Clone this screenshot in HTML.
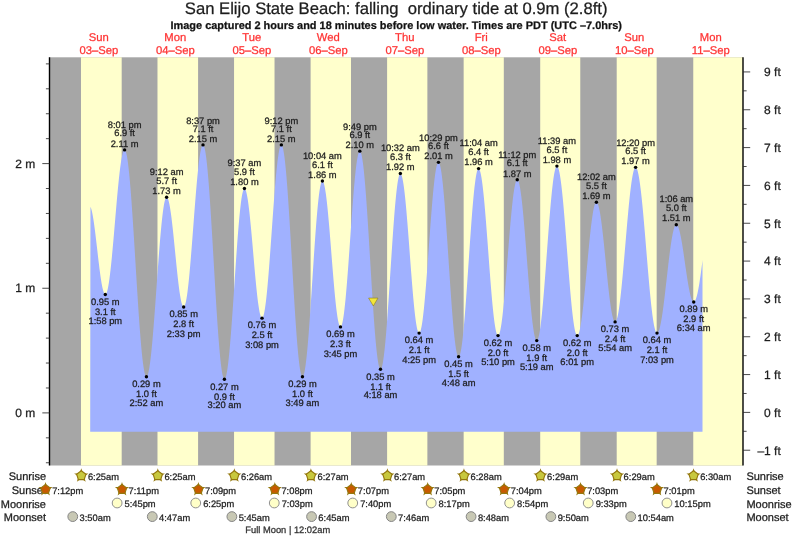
<!DOCTYPE html>
<html lang="en"><head><meta charset="utf-8"><title>San Elijo State Beach tide times</title><style>html,body{margin:0;padding:0;background:#fff;}body{width:793px;height:539px;overflow:hidden;font-family:"Liberation Sans",sans-serif;}svg{display:block;}</style></head><body>
<svg width="793" height="539" viewBox="0 0 793 539" font-family="'Liberation Sans', Arial, Helvetica, sans-serif" text-rendering="geometricPrecision">
<style>text{stroke:#1c1c1c;stroke-width:0.3px;stroke-opacity:0.85;paint-order:stroke fill}text.r{stroke:#ff3232}</style>
<rect x="0" y="0" width="793" height="539" fill="#ffffff"/>
<rect x="49.5" y="57.3" width="693.50" height="408.20" fill="#a6a6a6"/>
<rect x="80.99" y="57.3" width="40.69" height="408.20" fill="#ffffcc"/>
<rect x="157.49" y="57.3" width="40.59" height="408.20" fill="#ffffcc"/>
<rect x="234.05" y="57.3" width="40.48" height="408.20" fill="#ffffcc"/>
<rect x="310.60" y="57.3" width="40.38" height="408.20" fill="#ffffcc"/>
<rect x="387.10" y="57.3" width="40.27" height="408.20" fill="#ffffcc"/>
<rect x="463.65" y="57.3" width="40.16" height="408.20" fill="#ffffcc"/>
<rect x="540.21" y="57.3" width="40.06" height="408.20" fill="#ffffcc"/>
<rect x="616.71" y="57.3" width="39.95" height="408.20" fill="#ffffcc"/>
<rect x="693.26" y="57.3" width="49.74" height="408.20" fill="#ffffcc"/>
<path d="M90.20,431.70L90.45,206.65L90.95,207.90L91.45,209.54L91.95,211.57L92.45,213.96L92.95,216.70L93.45,219.75L93.95,223.09L94.45,226.69L94.95,230.50L95.45,234.50L95.95,238.65L96.45,242.90L96.95,247.22L97.45,251.57L97.95,255.90L98.45,260.17L98.95,264.35L99.45,268.39L99.95,272.25L100.45,275.90L100.95,279.31L101.45,282.43L101.95,285.25L102.45,287.72L102.95,289.84L103.45,291.58L103.95,292.92L104.45,293.86L104.95,294.37L105.45,294.46L105.95,294.09L106.45,293.24L106.95,291.91L107.45,290.13L107.95,287.89L108.45,285.22L108.95,282.13L109.45,278.64L109.95,274.78L110.45,270.57L110.95,266.04L111.45,261.22L111.95,256.14L112.45,250.83L112.95,245.34L113.45,239.69L113.95,233.92L114.45,228.08L114.95,222.20L115.45,216.31L115.95,210.47L116.45,204.70L116.95,199.05L117.45,193.56L117.95,188.25L118.45,183.17L118.95,178.35L119.45,173.81L119.95,169.60L120.45,165.74L120.95,162.25L121.45,159.16L121.95,156.49L122.45,154.25L122.95,152.46L123.45,151.14L123.95,150.28L124.45,149.91L124.95,150.04L125.45,150.75L125.95,152.04L126.45,153.91L126.95,156.35L127.45,159.34L127.95,162.86L128.45,166.91L128.95,171.46L129.45,176.48L129.95,181.95L130.45,187.84L130.95,194.12L131.45,200.76L131.95,207.72L132.45,214.97L132.95,222.47L133.45,230.18L133.95,238.07L134.45,246.08L134.95,254.19L135.45,262.34L135.95,270.49L136.45,278.61L136.95,286.65L137.45,294.57L137.95,302.33L138.45,309.88L138.95,317.19L139.45,324.23L139.95,330.95L140.45,337.32L140.95,343.31L141.45,348.88L141.95,354.02L142.45,358.68L142.95,362.85L143.45,366.50L143.95,369.62L144.45,372.19L144.95,374.20L145.45,375.63L145.95,376.48L146.45,376.75L146.95,376.45L147.45,375.62L147.95,374.24L148.45,372.34L148.95,369.92L149.45,367.01L149.95,363.60L150.45,359.73L150.95,355.43L151.45,350.71L151.95,345.60L152.45,340.14L152.95,334.35L153.45,328.28L153.95,321.96L154.45,315.43L154.95,308.73L155.45,301.90L155.95,294.97L156.45,288.00L156.95,281.02L157.45,274.08L157.95,267.21L158.45,260.47L158.95,253.88L159.45,247.50L159.95,241.36L160.45,235.49L160.95,229.93L161.45,224.72L161.95,219.88L162.45,215.46L162.95,211.46L163.45,207.92L163.95,204.86L164.45,202.30L164.95,200.25L165.45,198.73L165.95,197.74L166.45,197.29L166.95,197.36L167.45,197.90L167.95,198.91L168.45,200.36L168.95,202.25L169.45,204.57L169.95,207.29L170.45,210.38L170.95,213.84L171.45,217.61L171.95,221.68L172.45,226.01L172.95,230.55L173.45,235.29L173.95,240.16L174.45,245.13L174.95,250.17L175.45,255.22L175.95,260.24L176.45,265.19L176.95,270.04L177.45,274.73L177.95,279.23L178.45,283.50L178.95,287.50L179.45,291.20L179.95,294.58L180.45,297.59L180.95,300.21L181.45,302.43L181.95,304.22L182.45,305.57L182.95,306.47L183.45,306.90L183.95,306.86L184.45,306.29L184.95,305.20L185.45,303.58L185.95,301.44L186.45,298.81L186.95,295.70L187.45,292.13L187.95,288.12L188.45,283.70L188.95,278.90L189.45,273.75L189.95,268.29L190.45,262.55L190.95,256.56L191.45,250.37L191.95,244.03L192.45,237.56L192.95,231.01L193.45,224.44L193.95,217.87L194.45,211.35L194.95,204.93L195.45,198.65L195.95,192.55L196.45,186.67L196.95,181.05L197.45,175.72L197.95,170.73L198.45,166.10L198.95,161.86L199.45,158.05L199.95,154.68L200.45,151.79L200.95,149.38L201.45,147.48L201.95,146.09L202.45,145.23L202.95,144.91L203.45,145.15L203.95,146.03L204.45,147.52L204.95,149.64L205.45,152.36L205.95,155.67L206.45,159.55L206.95,163.99L207.45,168.95L207.95,174.41L208.45,180.35L208.95,186.72L209.45,193.50L209.95,200.65L210.45,208.13L210.95,215.90L211.45,223.92L211.95,232.14L212.45,240.53L212.95,249.03L213.45,257.60L213.95,266.19L214.45,274.77L214.95,283.27L215.45,291.66L215.95,299.89L216.45,307.92L216.95,315.70L217.45,323.19L217.95,330.36L218.45,337.15L218.95,343.55L219.45,349.50L219.95,354.98L220.45,359.97L220.95,364.42L221.45,368.33L221.95,371.66L222.45,374.41L222.95,376.55L223.45,378.07L223.95,378.97L224.45,379.24L224.95,378.91L225.45,377.99L225.95,376.49L226.45,374.43L226.95,371.80L227.45,368.64L227.95,364.96L228.45,360.77L228.95,356.12L229.45,351.02L229.95,345.51L230.45,339.61L230.95,333.38L231.45,326.84L231.95,320.04L232.45,313.02L232.95,305.81L233.45,298.47L233.95,291.05L234.45,283.57L234.95,276.10L235.45,268.68L235.95,261.35L236.45,254.16L236.95,247.15L237.45,240.37L237.95,233.86L238.45,227.65L238.95,221.79L239.45,216.31L239.95,211.25L240.45,206.63L240.95,202.49L241.45,198.85L241.95,195.73L242.45,193.15L242.95,191.13L243.45,189.68L243.95,188.82L244.45,188.53L244.95,188.80L245.45,189.58L245.95,190.86L246.45,192.65L246.95,194.92L247.45,197.66L247.95,200.84L248.45,204.44L248.95,208.43L249.45,212.78L249.95,217.45L250.45,222.41L250.95,227.61L251.45,233.02L251.95,238.59L252.45,244.28L252.95,250.05L253.45,255.83L253.95,261.60L254.45,267.30L254.95,272.90L255.45,278.33L255.95,283.57L256.45,288.56L256.95,293.28L257.45,297.67L257.95,301.71L258.45,305.37L258.95,308.61L259.45,311.41L259.95,313.75L260.45,315.61L260.95,316.97L261.45,317.82L261.95,318.16L262.45,317.96L262.95,317.19L263.45,315.86L263.95,313.97L264.45,311.54L264.95,308.58L265.45,305.12L265.95,301.16L266.45,296.75L266.95,291.91L267.45,286.67L267.95,281.06L268.45,275.13L268.95,268.92L269.45,262.45L269.95,255.78L270.45,248.95L270.95,242.01L271.45,235.00L271.95,227.96L272.45,220.95L272.95,214.01L273.45,207.18L273.95,200.52L274.45,194.06L274.95,187.84L275.45,181.92L275.95,176.32L276.45,171.08L276.95,166.25L277.45,161.84L277.95,157.90L278.45,154.44L278.95,151.49L279.45,149.06L279.95,147.18L280.45,145.86L280.95,145.10L281.45,144.91L281.95,145.34L282.45,146.41L282.95,148.12L283.45,150.45L283.95,153.39L284.45,156.93L284.95,161.04L285.45,165.71L285.95,170.90L286.45,176.60L286.95,182.76L287.45,189.35L287.95,196.34L288.45,203.69L288.95,211.35L289.45,219.29L289.95,227.46L290.45,235.81L290.95,244.30L291.45,252.88L291.95,261.51L292.45,270.14L292.95,278.71L293.45,287.18L293.95,295.51L294.45,303.64L294.95,311.54L295.45,319.16L295.95,326.45L296.45,333.38L296.95,339.90L297.45,345.99L297.95,351.61L298.45,356.72L298.95,361.30L299.45,365.33L299.95,368.77L300.45,371.62L300.95,373.85L301.45,375.45L301.95,376.42L302.45,376.75L302.95,376.45L303.45,375.55L303.95,374.05L304.45,371.95L304.95,369.28L305.45,366.04L305.95,362.27L306.45,357.97L306.95,353.19L307.45,347.94L307.95,342.26L308.45,336.19L308.95,329.77L309.45,323.03L309.95,316.01L310.45,308.76L310.95,301.33L311.45,293.76L311.95,286.09L312.45,278.39L312.95,270.68L313.45,263.03L313.95,255.47L314.45,248.06L314.95,240.84L315.45,233.86L315.95,227.16L316.45,220.78L316.95,214.76L317.45,209.14L317.95,203.95L318.45,199.23L318.95,195.00L319.45,191.29L319.95,188.13L320.45,185.54L320.95,183.52L321.45,182.10L321.95,181.27L322.45,181.06L322.95,181.41L323.45,182.31L323.95,183.75L324.45,185.71L324.95,188.19L325.45,191.16L325.95,194.60L326.45,198.49L326.95,202.80L327.45,207.49L327.95,212.53L328.45,217.88L328.95,223.51L329.45,229.36L329.95,235.40L330.45,241.57L330.95,247.84L331.45,254.16L331.95,260.47L332.45,266.74L332.95,272.91L333.45,278.93L333.95,284.77L334.45,290.38L334.95,295.72L335.45,300.74L335.95,305.41L336.45,309.69L336.95,313.55L337.45,316.97L337.95,319.91L338.45,322.36L338.95,324.30L339.45,325.70L339.95,326.57L340.45,326.89L340.95,326.65L341.45,325.83L341.95,324.44L342.45,322.49L342.95,319.98L343.45,316.95L343.95,313.39L344.45,309.35L344.95,304.84L345.45,299.90L345.95,294.56L346.45,288.85L346.95,282.82L347.45,276.49L347.95,269.92L348.45,263.14L348.95,256.20L349.45,249.15L349.95,242.04L350.45,234.90L350.95,227.79L351.45,220.76L351.95,213.84L352.45,207.09L352.95,200.56L353.45,194.27L353.95,188.28L354.45,182.63L354.95,177.34L355.45,172.47L355.95,168.03L356.45,164.06L356.95,160.58L357.45,157.63L357.95,155.20L358.45,153.34L358.95,152.03L359.45,151.30L359.95,151.15L360.45,151.62L360.95,152.71L361.45,154.42L361.95,156.75L362.45,159.67L362.95,163.17L363.45,167.23L363.95,171.83L364.45,176.94L364.95,182.53L365.45,188.57L365.95,195.02L366.45,201.85L366.95,209.02L367.45,216.48L367.95,224.19L368.45,232.11L368.95,240.20L369.45,248.40L369.95,256.67L370.45,264.95L370.95,273.21L371.45,281.40L371.95,289.46L372.45,297.36L372.95,305.04L373.45,312.46L373.95,319.58L374.45,326.35L374.95,332.75L375.45,338.72L375.95,344.24L376.45,349.28L376.95,353.80L377.45,357.78L377.95,361.20L378.45,364.04L378.95,366.27L379.45,367.90L379.95,368.90L380.45,369.27L380.95,369.02L381.45,368.16L381.95,366.70L382.45,364.64L382.95,362.00L383.45,358.79L383.95,355.04L384.45,350.77L384.95,346.00L385.45,340.76L385.95,335.09L386.45,329.02L386.95,322.60L387.45,315.85L387.95,308.83L388.45,301.57L388.95,294.12L389.45,286.53L389.95,278.85L390.45,271.12L390.95,263.40L391.45,255.72L391.95,248.14L392.45,240.71L392.95,233.47L393.45,226.46L393.95,219.74L394.45,213.34L394.95,207.30L395.45,201.66L395.95,196.46L396.45,191.73L396.95,187.49L397.45,183.78L397.95,180.62L398.45,178.02L398.95,176.01L399.45,174.59L399.95,173.78L400.45,173.58L400.95,173.95L401.45,174.89L401.95,176.37L402.45,178.39L402.95,180.94L403.45,183.99L403.95,187.53L404.45,191.53L404.95,195.97L405.45,200.81L405.95,206.02L406.45,211.55L406.95,217.39L407.45,223.47L407.95,229.76L408.45,236.22L408.95,242.80L409.45,249.45L409.95,256.13L410.45,262.79L410.95,269.39L411.45,275.87L411.95,282.19L412.45,288.32L412.95,294.19L413.45,299.78L413.95,305.05L414.45,309.95L414.95,314.45L415.45,318.53L415.95,322.15L416.45,325.29L416.95,327.92L417.45,330.03L417.95,331.60L418.45,332.62L418.95,333.09L419.45,333.00L419.95,332.35L420.45,331.13L420.95,329.37L421.45,327.07L421.95,324.25L422.45,320.92L422.95,317.11L423.45,312.84L423.95,308.14L424.45,303.04L424.95,297.58L425.45,291.79L425.95,285.71L426.45,279.38L426.95,272.84L427.45,266.14L427.95,259.31L428.45,252.41L428.95,245.48L429.45,238.56L429.95,231.70L430.45,224.95L430.95,218.35L431.45,211.94L431.95,205.77L432.45,199.87L432.95,194.29L433.45,189.07L433.95,184.23L434.45,179.80L434.95,175.83L435.45,172.33L435.95,169.33L436.45,166.85L436.95,164.90L437.45,163.49L437.95,162.64L438.45,162.35L438.95,162.64L439.45,163.52L439.95,164.98L440.45,167.02L440.95,169.62L441.45,172.77L441.95,176.45L442.45,180.63L442.95,185.30L443.45,190.41L443.95,195.95L444.45,201.87L444.95,208.14L445.45,214.73L445.95,221.59L446.45,228.68L446.95,235.96L447.45,243.38L447.95,250.90L448.45,258.48L448.95,266.06L449.45,273.60L449.95,281.05L450.45,288.38L450.95,295.53L451.45,302.46L451.95,309.13L452.45,315.50L452.95,321.53L453.45,327.18L453.95,332.42L454.45,337.22L454.95,341.54L455.45,345.37L455.95,348.67L456.45,351.44L456.95,353.64L457.45,355.27L457.95,356.32L458.45,356.78L458.95,356.66L459.45,355.95L459.95,354.66L460.45,352.81L460.95,350.40L461.45,347.45L461.95,343.97L462.45,339.99L462.95,335.53L463.45,330.63L463.95,325.30L464.45,319.59L464.95,313.52L465.45,307.14L465.95,300.49L466.45,293.60L466.95,286.52L467.45,279.30L467.95,271.97L468.45,264.58L468.95,257.19L469.45,249.82L469.95,242.54L470.45,235.38L470.95,228.39L471.45,221.61L471.95,215.09L472.45,208.86L472.95,202.96L473.45,197.43L473.95,192.31L474.45,187.62L474.95,183.39L475.45,179.66L475.95,176.43L476.45,173.74L476.95,171.61L477.45,170.03L477.95,169.03L478.45,168.60L478.95,168.75L479.45,169.44L479.95,170.67L480.45,172.43L480.95,174.71L481.45,177.50L481.95,180.77L482.45,184.51L482.95,188.68L483.45,193.28L483.95,198.25L484.45,203.58L484.95,209.22L485.45,215.15L485.95,221.31L486.45,227.68L486.95,234.20L487.45,240.84L487.95,247.56L488.45,254.30L488.95,261.03L489.45,267.70L489.95,274.27L490.45,280.70L490.95,286.94L491.45,292.95L491.95,298.70L492.45,304.14L492.95,309.24L493.45,313.97L493.95,318.29L494.45,322.19L494.95,325.62L495.45,328.58L495.95,331.04L496.45,332.98L496.95,334.40L497.45,335.28L497.95,335.61L498.45,335.41L498.95,334.70L499.45,333.47L499.95,331.73L500.45,329.50L500.95,326.80L501.45,323.63L501.95,320.02L502.45,316.00L502.95,311.58L503.45,306.81L503.95,301.72L504.45,296.32L504.95,290.67L505.45,284.81L505.95,278.76L506.45,272.57L506.95,266.28L507.45,259.93L507.95,253.57L508.45,247.24L508.95,240.97L509.45,234.82L509.95,228.82L510.45,223.01L510.95,217.44L511.45,212.13L511.95,207.13L512.45,202.46L512.95,198.17L513.45,194.27L513.95,190.79L514.45,187.76L514.95,185.19L515.45,183.11L515.95,181.53L516.45,180.45L516.95,179.89L517.45,179.85L517.95,180.33L518.45,181.33L518.95,182.84L519.45,184.85L519.95,187.35L520.45,190.32L520.95,193.75L521.45,197.61L521.95,201.87L522.45,206.51L522.95,211.50L523.45,216.81L523.95,222.39L524.45,228.23L524.95,234.27L525.45,240.48L525.95,246.81L526.45,253.24L526.95,259.71L527.45,266.18L527.95,272.61L528.45,278.96L528.95,285.19L529.45,291.26L529.95,297.13L530.45,302.76L530.95,308.11L531.45,313.15L531.95,317.85L532.45,322.17L532.95,326.09L533.45,329.59L533.95,332.63L534.45,335.21L534.95,337.29L535.45,338.88L535.95,339.96L536.45,340.52L536.95,340.56L537.45,340.07L537.95,339.05L538.45,337.52L538.95,335.48L539.45,332.94L539.95,329.92L540.45,326.44L540.95,322.51L541.45,318.17L541.95,313.43L542.45,308.33L542.95,302.90L543.45,297.16L543.95,291.17L544.45,284.94L544.95,278.52L545.45,271.95L545.95,265.27L546.45,258.51L546.95,251.73L547.45,244.95L547.95,238.23L548.45,231.59L548.95,225.09L549.45,218.76L549.95,212.64L550.45,206.76L550.95,201.17L551.45,195.89L551.95,190.96L552.45,186.40L552.95,182.26L553.45,178.54L553.95,175.27L554.45,172.48L554.95,170.18L555.45,168.38L555.95,167.09L556.45,166.33L556.95,166.09L557.45,166.37L557.95,167.16L558.45,168.45L558.95,170.23L559.45,172.49L559.95,175.22L560.45,178.41L560.95,182.03L561.45,186.06L561.95,190.48L562.45,195.26L562.95,200.37L563.45,205.79L563.95,211.47L564.45,217.40L564.95,223.52L565.45,229.80L565.95,236.22L566.45,242.72L566.95,249.26L567.45,255.82L567.95,262.35L568.45,268.81L568.95,275.16L569.45,281.37L569.95,287.39L570.45,293.20L570.95,298.75L571.45,304.01L571.95,308.96L572.45,313.56L572.95,317.78L573.45,321.60L573.95,325.00L574.45,327.95L574.95,330.45L575.45,332.46L575.95,333.99L576.45,335.02L576.95,335.54L577.45,335.57L577.95,335.14L578.45,334.26L578.95,332.95L579.45,331.21L579.95,329.05L580.45,326.49L580.95,323.54L581.45,320.22L581.95,316.57L582.45,312.59L582.95,308.32L583.45,303.78L583.95,299.01L584.45,294.04L584.95,288.91L585.45,283.63L585.95,278.26L586.45,272.83L586.95,267.37L587.45,261.92L587.95,256.52L588.45,251.20L588.95,246.00L589.45,240.95L589.95,236.09L590.45,231.45L590.95,227.07L591.45,222.96L591.95,219.16L592.45,215.70L592.95,212.59L593.45,209.86L593.95,207.52L594.45,205.60L594.95,204.10L595.45,203.04L595.95,202.42L596.45,202.24L596.95,202.50L597.45,203.18L597.95,204.27L598.45,205.77L598.95,207.66L599.45,209.94L599.95,212.59L600.45,215.59L600.95,218.91L601.45,222.54L601.95,226.45L602.45,230.61L602.95,234.99L603.45,239.56L603.95,244.29L604.45,249.15L604.95,254.09L605.45,259.10L605.95,264.12L606.45,269.13L606.95,274.09L607.45,278.97L607.95,283.72L608.45,288.33L608.95,292.74L609.45,296.95L609.95,300.90L610.45,304.58L610.95,307.97L611.45,311.03L611.95,313.74L612.45,316.09L612.95,318.06L613.45,319.63L613.95,320.80L614.45,321.55L614.95,321.89L615.45,321.79L615.95,321.25L616.45,320.25L616.95,318.81L617.45,316.94L617.95,314.64L618.45,311.93L618.95,308.82L619.45,305.34L619.95,301.51L620.45,297.34L620.95,292.86L621.45,288.09L621.95,283.08L622.45,277.83L622.95,272.40L623.45,266.79L623.95,261.06L624.45,255.24L624.95,249.35L625.45,243.43L625.95,237.52L626.45,231.65L626.95,225.86L627.45,220.18L627.95,214.64L628.45,209.28L628.95,204.12L629.45,199.20L629.95,194.55L630.45,190.19L630.95,186.15L631.45,182.46L631.95,179.13L632.45,176.18L632.95,173.63L633.45,171.50L633.95,169.80L634.45,168.54L634.95,167.73L635.45,167.36L635.95,167.45L636.45,167.98L636.95,168.95L637.45,170.37L637.95,172.21L638.45,174.47L638.95,177.14L639.45,180.20L639.95,183.64L640.45,187.44L640.95,191.58L641.45,196.03L641.95,200.77L642.45,205.78L642.95,211.03L643.45,216.49L643.95,222.13L644.45,227.92L644.95,233.83L645.45,239.83L645.95,245.89L646.45,251.97L646.95,258.04L647.45,264.07L647.95,270.02L648.45,275.87L648.95,281.58L649.45,287.12L649.95,292.46L650.45,297.58L650.95,302.44L651.45,307.02L651.95,311.29L652.45,315.24L652.95,318.83L653.45,322.06L653.95,324.90L654.45,327.34L654.95,329.36L655.45,330.96L655.95,332.12L656.45,332.84L656.95,333.12L657.45,332.99L657.95,332.49L658.45,331.64L658.95,330.44L659.45,328.90L659.95,327.03L660.45,324.84L660.95,322.34L661.45,319.56L661.95,316.50L662.45,313.20L662.95,309.67L663.45,305.94L663.95,302.02L664.45,297.95L664.95,293.76L665.45,289.47L665.95,285.11L666.45,280.70L666.95,276.29L667.45,271.89L667.95,267.54L668.45,263.26L668.95,259.09L669.45,255.05L669.95,251.17L670.45,247.47L670.95,243.98L671.45,240.72L671.95,237.71L672.45,234.98L672.95,232.54L673.45,230.40L673.95,228.59L674.45,227.11L674.95,225.98L675.45,225.19L675.95,224.76L676.45,224.69L676.95,224.95L677.45,225.51L677.95,226.38L678.45,227.56L678.95,229.02L679.45,230.76L679.95,232.76L680.45,235.02L680.95,237.50L681.45,240.19L681.95,243.07L682.45,246.12L682.95,249.30L683.45,252.60L683.95,255.99L684.45,259.43L684.95,262.91L685.45,266.39L685.95,269.85L686.45,273.25L686.95,276.57L687.45,279.78L687.95,282.86L688.45,285.79L688.95,288.52L689.45,291.06L689.95,293.37L690.45,295.43L690.95,297.24L691.45,298.77L691.95,300.01L692.45,300.95L692.95,301.59L693.45,301.92L693.95,301.93L694.45,301.63L694.95,301.02L695.45,300.10L695.95,298.87L696.45,297.36L696.95,295.55L697.45,293.47L697.95,291.12L698.45,288.52L698.95,285.69L699.45,282.63L699.95,279.37L700.45,275.93L700.95,272.32L701.45,268.57L701.95,264.69L702.45,260.72L702.50,258.29L702.50,431.70Z" fill="#a0b1ff"/>
<line x1="49.5" y1="57.3" x2="49.5" y2="465.5" stroke="#000000" stroke-width="1.4"/>
<line x1="743.0" y1="57.3" x2="743.0" y2="465.5" stroke="#000000" stroke-width="1.4"/>
<line x1="45.90" y1="462.76" x2="49.5" y2="462.76" stroke="#2a2a2a" stroke-width="0.85"/>
<line x1="45.90" y1="437.83" x2="49.5" y2="437.83" stroke="#2a2a2a" stroke-width="0.85"/>
<line x1="42.30" y1="412.90" x2="49.5" y2="412.90" stroke="#2a2a2a" stroke-width="0.85"/>
<text x="35.3" y="417.10" font-size="12" text-anchor="end" fill="#1c1c1c">0 m</text>
<line x1="45.90" y1="387.97" x2="49.5" y2="387.97" stroke="#2a2a2a" stroke-width="0.85"/>
<line x1="45.90" y1="363.04" x2="49.5" y2="363.04" stroke="#2a2a2a" stroke-width="0.85"/>
<line x1="45.90" y1="338.11" x2="49.5" y2="338.11" stroke="#2a2a2a" stroke-width="0.85"/>
<line x1="45.90" y1="313.18" x2="49.5" y2="313.18" stroke="#2a2a2a" stroke-width="0.85"/>
<line x1="42.30" y1="288.25" x2="49.5" y2="288.25" stroke="#2a2a2a" stroke-width="0.85"/>
<text x="35.3" y="292.45" font-size="12" text-anchor="end" fill="#1c1c1c">1 m</text>
<line x1="45.90" y1="263.32" x2="49.5" y2="263.32" stroke="#2a2a2a" stroke-width="0.85"/>
<line x1="45.90" y1="238.39" x2="49.5" y2="238.39" stroke="#2a2a2a" stroke-width="0.85"/>
<line x1="45.90" y1="213.46" x2="49.5" y2="213.46" stroke="#2a2a2a" stroke-width="0.85"/>
<line x1="45.90" y1="188.53" x2="49.5" y2="188.53" stroke="#2a2a2a" stroke-width="0.85"/>
<line x1="42.30" y1="163.60" x2="49.5" y2="163.60" stroke="#2a2a2a" stroke-width="0.85"/>
<text x="35.3" y="167.80" font-size="12" text-anchor="end" fill="#1c1c1c">2 m</text>
<line x1="45.90" y1="138.67" x2="49.5" y2="138.67" stroke="#2a2a2a" stroke-width="0.85"/>
<line x1="45.90" y1="113.74" x2="49.5" y2="113.74" stroke="#2a2a2a" stroke-width="0.85"/>
<line x1="45.90" y1="88.81" x2="49.5" y2="88.81" stroke="#2a2a2a" stroke-width="0.85"/>
<line x1="45.90" y1="63.88" x2="49.5" y2="63.88" stroke="#2a2a2a" stroke-width="0.85"/>
<line x1="743.0" y1="450.23" x2="750.20" y2="450.23" stroke="#2a2a2a" stroke-width="0.85"/>
<text x="780.8" y="454.53" font-size="12" text-anchor="end" fill="#1c1c1c">–1 ft</text>
<line x1="743.0" y1="431.31" x2="746.60" y2="431.31" stroke="#2a2a2a" stroke-width="0.85"/>
<line x1="743.0" y1="412.40" x2="750.20" y2="412.40" stroke="#2a2a2a" stroke-width="0.85"/>
<text x="780.8" y="416.70" font-size="12" text-anchor="end" fill="#1c1c1c">0 ft</text>
<line x1="743.0" y1="393.48" x2="746.60" y2="393.48" stroke="#2a2a2a" stroke-width="0.85"/>
<line x1="743.0" y1="374.57" x2="750.20" y2="374.57" stroke="#2a2a2a" stroke-width="0.85"/>
<text x="780.8" y="378.87" font-size="12" text-anchor="end" fill="#1c1c1c">1 ft</text>
<line x1="743.0" y1="355.65" x2="746.60" y2="355.65" stroke="#2a2a2a" stroke-width="0.85"/>
<line x1="743.0" y1="336.74" x2="750.20" y2="336.74" stroke="#2a2a2a" stroke-width="0.85"/>
<text x="780.8" y="341.04" font-size="12" text-anchor="end" fill="#1c1c1c">2 ft</text>
<line x1="743.0" y1="317.82" x2="746.60" y2="317.82" stroke="#2a2a2a" stroke-width="0.85"/>
<line x1="743.0" y1="298.91" x2="750.20" y2="298.91" stroke="#2a2a2a" stroke-width="0.85"/>
<text x="780.8" y="303.21" font-size="12" text-anchor="end" fill="#1c1c1c">3 ft</text>
<line x1="743.0" y1="280.00" x2="746.60" y2="280.00" stroke="#2a2a2a" stroke-width="0.85"/>
<line x1="743.0" y1="261.08" x2="750.20" y2="261.08" stroke="#2a2a2a" stroke-width="0.85"/>
<text x="780.8" y="265.38" font-size="12" text-anchor="end" fill="#1c1c1c">4 ft</text>
<line x1="743.0" y1="242.16" x2="746.60" y2="242.16" stroke="#2a2a2a" stroke-width="0.85"/>
<line x1="743.0" y1="223.25" x2="750.20" y2="223.25" stroke="#2a2a2a" stroke-width="0.85"/>
<text x="780.8" y="227.55" font-size="12" text-anchor="end" fill="#1c1c1c">5 ft</text>
<line x1="743.0" y1="204.33" x2="746.60" y2="204.33" stroke="#2a2a2a" stroke-width="0.85"/>
<line x1="743.0" y1="185.42" x2="750.20" y2="185.42" stroke="#2a2a2a" stroke-width="0.85"/>
<text x="780.8" y="189.72" font-size="12" text-anchor="end" fill="#1c1c1c">6 ft</text>
<line x1="743.0" y1="166.50" x2="746.60" y2="166.50" stroke="#2a2a2a" stroke-width="0.85"/>
<line x1="743.0" y1="147.59" x2="750.20" y2="147.59" stroke="#2a2a2a" stroke-width="0.85"/>
<text x="780.8" y="151.89" font-size="12" text-anchor="end" fill="#1c1c1c">7 ft</text>
<line x1="743.0" y1="128.68" x2="746.60" y2="128.68" stroke="#2a2a2a" stroke-width="0.85"/>
<line x1="743.0" y1="109.76" x2="750.20" y2="109.76" stroke="#2a2a2a" stroke-width="0.85"/>
<text x="780.8" y="114.06" font-size="12" text-anchor="end" fill="#1c1c1c">8 ft</text>
<line x1="743.0" y1="90.84" x2="746.60" y2="90.84" stroke="#2a2a2a" stroke-width="0.85"/>
<line x1="743.0" y1="71.93" x2="750.20" y2="71.93" stroke="#2a2a2a" stroke-width="0.85"/>
<text x="780.8" y="76.23" font-size="12" text-anchor="end" fill="#1c1c1c">9 ft</text>
<text x="396.2" y="14.2" font-size="16.65" text-anchor="middle" fill="#1c1c1c" xml:space="preserve" style="white-space:pre">San Elijo State Beach: falling  ordinary tide at 0.9m (2.8ft)</text>
<text x="396.2" y="28.7" font-size="10.96" font-weight="bold" text-anchor="middle" fill="#111">Image captured 2 hours and 18 minutes before low water. Times are PDT (UTC –7.0hrs)</text>
<text x="98.79" y="41.2" font-size="11.25" text-anchor="middle" class="r" fill="#ff3232">Sun</text>
<text x="98.79" y="54.0" font-size="11.25" text-anchor="middle" class="r" fill="#ff3232">03–Sep</text>
<text x="175.29" y="41.2" font-size="11.25" text-anchor="middle" class="r" fill="#ff3232">Mon</text>
<text x="175.29" y="54.0" font-size="11.25" text-anchor="middle" class="r" fill="#ff3232">04–Sep</text>
<text x="251.79" y="41.2" font-size="11.25" text-anchor="middle" class="r" fill="#ff3232">Tue</text>
<text x="251.79" y="54.0" font-size="11.25" text-anchor="middle" class="r" fill="#ff3232">05–Sep</text>
<text x="328.29" y="41.2" font-size="11.25" text-anchor="middle" class="r" fill="#ff3232">Wed</text>
<text x="328.29" y="54.0" font-size="11.25" text-anchor="middle" class="r" fill="#ff3232">06–Sep</text>
<text x="404.79" y="41.2" font-size="11.25" text-anchor="middle" class="r" fill="#ff3232">Thu</text>
<text x="404.79" y="54.0" font-size="11.25" text-anchor="middle" class="r" fill="#ff3232">07–Sep</text>
<text x="481.29" y="41.2" font-size="11.25" text-anchor="middle" class="r" fill="#ff3232">Fri</text>
<text x="481.29" y="54.0" font-size="11.25" text-anchor="middle" class="r" fill="#ff3232">08–Sep</text>
<text x="557.79" y="41.2" font-size="11.25" text-anchor="middle" class="r" fill="#ff3232">Sat</text>
<text x="557.79" y="54.0" font-size="11.25" text-anchor="middle" class="r" fill="#ff3232">09–Sep</text>
<text x="634.29" y="41.2" font-size="11.25" text-anchor="middle" class="r" fill="#ff3232">Sun</text>
<text x="634.29" y="54.0" font-size="11.25" text-anchor="middle" class="r" fill="#ff3232">10–Sep</text>
<text x="710.79" y="41.2" font-size="11.25" text-anchor="middle" class="r" fill="#ff3232">Mon</text>
<text x="710.79" y="54.0" font-size="11.25" text-anchor="middle" class="r" fill="#ff3232">11–Sep</text>
<circle cx="105.31" cy="294.48" r="1.7" fill="#000"/>
<text x="105.31" y="304.78" font-size="9.33" text-anchor="middle" fill="#1c1c1c">0.95 m</text>
<text x="105.31" y="314.78" font-size="9.33" text-anchor="middle" fill="#1c1c1c">3.1 ft</text>
<text x="105.31" y="324.18" font-size="9.33" text-anchor="middle" fill="#1c1c1c">1:58 pm</text>
<circle cx="124.59" cy="149.89" r="1.7" fill="#000"/>
<text x="124.59" y="128.49" font-size="9.33" text-anchor="middle" fill="#1c1c1c">8:01 pm</text>
<text x="124.59" y="136.49" font-size="9.33" text-anchor="middle" fill="#1c1c1c">6.9 ft</text>
<text x="124.59" y="146.59" font-size="9.33" text-anchor="middle" fill="#1c1c1c">2.11 m</text>
<circle cx="146.43" cy="376.75" r="1.7" fill="#000"/>
<text x="146.43" y="387.05" font-size="9.33" text-anchor="middle" fill="#1c1c1c">0.29 m</text>
<text x="146.43" y="397.05" font-size="9.33" text-anchor="middle" fill="#1c1c1c">1.0 ft</text>
<text x="146.43" y="405.65" font-size="9.33" text-anchor="middle" fill="#1c1c1c">2:52 am</text>
<circle cx="166.62" cy="197.26" r="1.7" fill="#000"/>
<text x="166.62" y="174.96" font-size="9.33" text-anchor="middle" fill="#1c1c1c">9:12 am</text>
<text x="166.62" y="183.86" font-size="9.33" text-anchor="middle" fill="#1c1c1c">5.7 ft</text>
<text x="166.62" y="193.96" font-size="9.33" text-anchor="middle" fill="#1c1c1c">1.73 m</text>
<circle cx="183.67" cy="306.95" r="1.7" fill="#000"/>
<text x="183.67" y="317.25" font-size="9.33" text-anchor="middle" fill="#1c1c1c">0.85 m</text>
<text x="183.67" y="327.25" font-size="9.33" text-anchor="middle" fill="#1c1c1c">2.8 ft</text>
<text x="183.67" y="336.65" font-size="9.33" text-anchor="middle" fill="#1c1c1c">2:33 pm</text>
<circle cx="203.01" cy="144.90" r="1.7" fill="#000"/>
<text x="203.01" y="123.50" font-size="9.33" text-anchor="middle" fill="#1c1c1c">8:37 pm</text>
<text x="203.01" y="131.50" font-size="9.33" text-anchor="middle" fill="#1c1c1c">7.1 ft</text>
<text x="203.01" y="141.60" font-size="9.33" text-anchor="middle" fill="#1c1c1c">2.15 m</text>
<circle cx="224.41" cy="379.24" r="1.7" fill="#000"/>
<text x="224.41" y="389.54" font-size="9.33" text-anchor="middle" fill="#1c1c1c">0.27 m</text>
<text x="224.41" y="399.54" font-size="9.33" text-anchor="middle" fill="#1c1c1c">0.9 ft</text>
<text x="224.41" y="408.14" font-size="9.33" text-anchor="middle" fill="#1c1c1c">3:20 am</text>
<circle cx="244.44" cy="188.53" r="1.7" fill="#000"/>
<text x="244.44" y="166.23" font-size="9.33" text-anchor="middle" fill="#1c1c1c">9:37 am</text>
<text x="244.44" y="175.13" font-size="9.33" text-anchor="middle" fill="#1c1c1c">5.9 ft</text>
<text x="244.44" y="185.23" font-size="9.33" text-anchor="middle" fill="#1c1c1c">1.80 m</text>
<circle cx="262.03" cy="318.17" r="1.7" fill="#000"/>
<text x="262.03" y="328.47" font-size="9.33" text-anchor="middle" fill="#1c1c1c">0.76 m</text>
<text x="262.03" y="338.47" font-size="9.33" text-anchor="middle" fill="#1c1c1c">2.5 ft</text>
<text x="262.03" y="347.87" font-size="9.33" text-anchor="middle" fill="#1c1c1c">3:08 pm</text>
<circle cx="281.37" cy="144.90" r="1.7" fill="#000"/>
<text x="281.37" y="123.50" font-size="9.33" text-anchor="middle" fill="#1c1c1c">9:12 pm</text>
<text x="281.37" y="131.50" font-size="9.33" text-anchor="middle" fill="#1c1c1c">7.1 ft</text>
<text x="281.37" y="141.60" font-size="9.33" text-anchor="middle" fill="#1c1c1c">2.15 m</text>
<circle cx="302.46" cy="376.75" r="1.7" fill="#000"/>
<text x="302.46" y="387.05" font-size="9.33" text-anchor="middle" fill="#1c1c1c">0.29 m</text>
<text x="302.46" y="397.05" font-size="9.33" text-anchor="middle" fill="#1c1c1c">1.0 ft</text>
<text x="302.46" y="405.65" font-size="9.33" text-anchor="middle" fill="#1c1c1c">3:49 am</text>
<circle cx="322.38" cy="181.05" r="1.7" fill="#000"/>
<text x="322.38" y="158.75" font-size="9.33" text-anchor="middle" fill="#1c1c1c">10:04 am</text>
<text x="322.38" y="167.65" font-size="9.33" text-anchor="middle" fill="#1c1c1c">6.1 ft</text>
<text x="322.38" y="177.75" font-size="9.33" text-anchor="middle" fill="#1c1c1c">1.86 m</text>
<circle cx="340.49" cy="326.89" r="1.7" fill="#000"/>
<text x="340.49" y="337.19" font-size="9.33" text-anchor="middle" fill="#1c1c1c">0.69 m</text>
<text x="340.49" y="347.19" font-size="9.33" text-anchor="middle" fill="#1c1c1c">2.3 ft</text>
<text x="340.49" y="356.59" font-size="9.33" text-anchor="middle" fill="#1c1c1c">3:45 pm</text>
<circle cx="359.83" cy="151.13" r="1.7" fill="#000"/>
<text x="359.83" y="129.73" font-size="9.33" text-anchor="middle" fill="#1c1c1c">9:49 pm</text>
<text x="359.83" y="137.73" font-size="9.33" text-anchor="middle" fill="#1c1c1c">6.9 ft</text>
<text x="359.83" y="147.83" font-size="9.33" text-anchor="middle" fill="#1c1c1c">2.10 m</text>
<circle cx="380.50" cy="369.27" r="1.7" fill="#000"/>
<text x="380.50" y="379.57" font-size="9.33" text-anchor="middle" fill="#1c1c1c">0.35 m</text>
<text x="380.50" y="389.57" font-size="9.33" text-anchor="middle" fill="#1c1c1c">1.1 ft</text>
<text x="380.50" y="398.17" font-size="9.33" text-anchor="middle" fill="#1c1c1c">4:18 am</text>
<circle cx="400.37" cy="173.57" r="1.7" fill="#000"/>
<text x="400.37" y="151.27" font-size="9.33" text-anchor="middle" fill="#1c1c1c">10:32 am</text>
<text x="400.37" y="160.17" font-size="9.33" text-anchor="middle" fill="#1c1c1c">6.3 ft</text>
<text x="400.37" y="170.27" font-size="9.33" text-anchor="middle" fill="#1c1c1c">1.92 m</text>
<circle cx="419.12" cy="333.12" r="1.7" fill="#000"/>
<text x="419.12" y="343.42" font-size="9.33" text-anchor="middle" fill="#1c1c1c">0.64 m</text>
<text x="419.12" y="353.42" font-size="9.33" text-anchor="middle" fill="#1c1c1c">2.1 ft</text>
<text x="419.12" y="362.82" font-size="9.33" text-anchor="middle" fill="#1c1c1c">4:25 pm</text>
<circle cx="438.46" cy="162.35" r="1.7" fill="#000"/>
<text x="438.46" y="140.95" font-size="9.33" text-anchor="middle" fill="#1c1c1c">10:29 pm</text>
<text x="438.46" y="148.95" font-size="9.33" text-anchor="middle" fill="#1c1c1c">6.6 ft</text>
<text x="438.46" y="159.05" font-size="9.33" text-anchor="middle" fill="#1c1c1c">2.01 m</text>
<circle cx="458.59" cy="356.81" r="1.7" fill="#000"/>
<text x="458.59" y="367.11" font-size="9.33" text-anchor="middle" fill="#1c1c1c">0.45 m</text>
<text x="458.59" y="377.11" font-size="9.33" text-anchor="middle" fill="#1c1c1c">1.5 ft</text>
<text x="458.59" y="385.71" font-size="9.33" text-anchor="middle" fill="#1c1c1c">4:48 am</text>
<circle cx="478.57" cy="168.59" r="1.7" fill="#000"/>
<text x="478.57" y="146.29" font-size="9.33" text-anchor="middle" fill="#1c1c1c">11:04 am</text>
<text x="478.57" y="155.19" font-size="9.33" text-anchor="middle" fill="#1c1c1c">6.4 ft</text>
<text x="478.57" y="165.29" font-size="9.33" text-anchor="middle" fill="#1c1c1c">1.96 m</text>
<circle cx="498.01" cy="335.62" r="1.7" fill="#000"/>
<text x="498.01" y="345.92" font-size="9.33" text-anchor="middle" fill="#1c1c1c">0.62 m</text>
<text x="498.01" y="355.92" font-size="9.33" text-anchor="middle" fill="#1c1c1c">2.0 ft</text>
<text x="498.01" y="365.32" font-size="9.33" text-anchor="middle" fill="#1c1c1c">5:10 pm</text>
<circle cx="517.24" cy="179.80" r="1.7" fill="#000"/>
<text x="517.24" y="158.40" font-size="9.33" text-anchor="middle" fill="#1c1c1c">11:12 pm</text>
<text x="517.24" y="166.40" font-size="9.33" text-anchor="middle" fill="#1c1c1c">6.1 ft</text>
<text x="517.24" y="176.50" font-size="9.33" text-anchor="middle" fill="#1c1c1c">1.87 m</text>
<circle cx="536.74" cy="340.60" r="1.7" fill="#000"/>
<text x="536.74" y="350.90" font-size="9.33" text-anchor="middle" fill="#1c1c1c">0.58 m</text>
<text x="536.74" y="360.90" font-size="9.33" text-anchor="middle" fill="#1c1c1c">1.9 ft</text>
<text x="536.74" y="369.50" font-size="9.33" text-anchor="middle" fill="#1c1c1c">5:19 am</text>
<circle cx="556.92" cy="166.09" r="1.7" fill="#000"/>
<text x="556.92" y="143.79" font-size="9.33" text-anchor="middle" fill="#1c1c1c">11:39 am</text>
<text x="556.92" y="152.69" font-size="9.33" text-anchor="middle" fill="#1c1c1c">6.5 ft</text>
<text x="556.92" y="162.79" font-size="9.33" text-anchor="middle" fill="#1c1c1c">1.98 m</text>
<circle cx="577.22" cy="335.62" r="1.7" fill="#000"/>
<text x="577.22" y="345.92" font-size="9.33" text-anchor="middle" fill="#1c1c1c">0.62 m</text>
<text x="577.22" y="355.92" font-size="9.33" text-anchor="middle" fill="#1c1c1c">2.0 ft</text>
<text x="577.22" y="365.32" font-size="9.33" text-anchor="middle" fill="#1c1c1c">6:01 pm</text>
<circle cx="596.40" cy="202.24" r="1.7" fill="#000"/>
<text x="596.40" y="179.94" font-size="9.33" text-anchor="middle" fill="#1c1c1c">12:02 am</text>
<text x="596.40" y="188.84" font-size="9.33" text-anchor="middle" fill="#1c1c1c">5.5 ft</text>
<text x="596.40" y="198.94" font-size="9.33" text-anchor="middle" fill="#1c1c1c">1.69 m</text>
<circle cx="615.10" cy="321.91" r="1.7" fill="#000"/>
<text x="615.10" y="332.21" font-size="9.33" text-anchor="middle" fill="#1c1c1c">0.73 m</text>
<text x="615.10" y="342.21" font-size="9.33" text-anchor="middle" fill="#1c1c1c">2.4 ft</text>
<text x="615.10" y="350.81" font-size="9.33" text-anchor="middle" fill="#1c1c1c">5:54 am</text>
<circle cx="635.60" cy="167.34" r="1.7" fill="#000"/>
<text x="635.60" y="145.94" font-size="9.33" text-anchor="middle" fill="#1c1c1c">12:20 pm</text>
<text x="635.60" y="153.94" font-size="9.33" text-anchor="middle" fill="#1c1c1c">6.5 ft</text>
<text x="635.60" y="164.04" font-size="9.33" text-anchor="middle" fill="#1c1c1c">1.97 m</text>
<circle cx="657.01" cy="333.12" r="1.7" fill="#000"/>
<text x="657.01" y="343.42" font-size="9.33" text-anchor="middle" fill="#1c1c1c">0.64 m</text>
<text x="657.01" y="353.42" font-size="9.33" text-anchor="middle" fill="#1c1c1c">2.1 ft</text>
<text x="657.01" y="362.82" font-size="9.33" text-anchor="middle" fill="#1c1c1c">7:03 pm</text>
<circle cx="676.30" cy="224.68" r="1.7" fill="#000"/>
<text x="676.30" y="202.38" font-size="9.33" text-anchor="middle" fill="#1c1c1c">1:06 am</text>
<text x="676.30" y="211.28" font-size="9.33" text-anchor="middle" fill="#1c1c1c">5.0 ft</text>
<text x="676.30" y="221.38" font-size="9.33" text-anchor="middle" fill="#1c1c1c">1.51 m</text>
<circle cx="693.72" cy="301.96" r="1.7" fill="#000"/>
<text x="693.72" y="312.26" font-size="9.33" text-anchor="middle" fill="#1c1c1c">0.89 m</text>
<text x="693.72" y="322.26" font-size="9.33" text-anchor="middle" fill="#1c1c1c">2.9 ft</text>
<text x="693.72" y="330.86" font-size="9.33" text-anchor="middle" fill="#1c1c1c">6:34 am</text>
<path d="M368.60,298.10L378.00,298.10L373.30,306.00Z" fill="#f2e63a" stroke="#8a7a20" stroke-width="0.6"/>
<text x="46.0" y="480.10" font-size="11" text-anchor="end" fill="#1c1c1c">Sunrise</text>
<text x="746.4" y="480.10" font-size="11" text-anchor="start" fill="#1c1c1c">Sunrise</text>
<text x="46.0" y="494.00" font-size="11" text-anchor="end" fill="#1c1c1c">Sunset</text>
<text x="746.4" y="494.00" font-size="11" text-anchor="start" fill="#1c1c1c">Sunset</text>
<text x="46.0" y="507.60" font-size="11" text-anchor="end" fill="#1c1c1c">Moonrise</text>
<text x="746.4" y="507.60" font-size="11" text-anchor="start" fill="#1c1c1c">Moonrise</text>
<text x="46.0" y="521.10" font-size="11" text-anchor="end" fill="#1c1c1c">Moonset</text>
<text x="746.4" y="521.10" font-size="11" text-anchor="start" fill="#1c1c1c">Moonset</text>
<polygon points="81.29,468.20 85.70,481.77 74.16,473.38 88.43,473.38 76.88,481.77" fill="#94780e" fill-rule="nonzero"/><polygon points="81.29,470.80 85.95,474.19 84.17,479.66 78.41,479.66 76.63,474.19" fill="#c8c83e" stroke="#94780e" stroke-width="1.1" stroke-linejoin="miter"/>
<text x="87.89" y="479.7" font-size="9.33" fill="#1c1c1c">6:25am</text>
<polygon points="157.79,468.20 162.20,481.77 150.66,473.38 164.93,473.38 153.38,481.77" fill="#94780e" fill-rule="nonzero"/><polygon points="157.79,470.80 162.45,474.19 160.67,479.66 154.91,479.66 153.13,474.19" fill="#c8c83e" stroke="#94780e" stroke-width="1.1" stroke-linejoin="miter"/>
<text x="164.39" y="479.7" font-size="9.33" fill="#1c1c1c">6:25am</text>
<polygon points="234.35,468.20 238.75,481.77 227.21,473.38 241.48,473.38 229.94,481.77" fill="#94780e" fill-rule="nonzero"/><polygon points="234.35,470.80 239.01,474.19 237.23,479.66 231.47,479.66 229.69,474.19" fill="#c8c83e" stroke="#94780e" stroke-width="1.1" stroke-linejoin="miter"/>
<text x="240.95" y="479.7" font-size="9.33" fill="#1c1c1c">6:26am</text>
<polygon points="310.90,468.20 315.31,481.77 303.77,473.38 318.03,473.38 306.49,481.77" fill="#94780e" fill-rule="nonzero"/><polygon points="310.90,470.80 315.56,474.19 313.78,479.66 308.02,479.66 306.24,474.19" fill="#c8c83e" stroke="#94780e" stroke-width="1.1" stroke-linejoin="miter"/>
<text x="317.50" y="479.7" font-size="9.33" fill="#1c1c1c">6:27am</text>
<polygon points="387.40,468.20 391.81,481.77 380.27,473.38 394.53,473.38 382.99,481.77" fill="#94780e" fill-rule="nonzero"/><polygon points="387.40,470.80 392.06,474.19 390.28,479.66 384.52,479.66 382.74,474.19" fill="#c8c83e" stroke="#94780e" stroke-width="1.1" stroke-linejoin="miter"/>
<text x="394.00" y="479.7" font-size="9.33" fill="#1c1c1c">6:27am</text>
<polygon points="463.95,468.20 468.36,481.77 456.82,473.38 471.09,473.38 459.54,481.77" fill="#94780e" fill-rule="nonzero"/><polygon points="463.95,470.80 468.61,474.19 466.83,479.66 461.07,479.66 459.29,474.19" fill="#c8c83e" stroke="#94780e" stroke-width="1.1" stroke-linejoin="miter"/>
<text x="470.55" y="479.7" font-size="9.33" fill="#1c1c1c">6:28am</text>
<polygon points="540.51,468.20 544.91,481.77 533.37,473.38 547.64,473.38 536.10,481.77" fill="#94780e" fill-rule="nonzero"/><polygon points="540.51,470.80 545.17,474.19 543.39,479.66 537.63,479.66 535.85,474.19" fill="#c8c83e" stroke="#94780e" stroke-width="1.1" stroke-linejoin="miter"/>
<text x="547.11" y="479.7" font-size="9.33" fill="#1c1c1c">6:29am</text>
<polygon points="617.01,468.20 621.41,481.77 609.87,473.38 624.14,473.38 612.60,481.77" fill="#94780e" fill-rule="nonzero"/><polygon points="617.01,470.80 621.67,474.19 619.89,479.66 614.13,479.66 612.35,474.19" fill="#c8c83e" stroke="#94780e" stroke-width="1.1" stroke-linejoin="miter"/>
<text x="623.61" y="479.7" font-size="9.33" fill="#1c1c1c">6:29am</text>
<polygon points="693.56,468.20 697.97,481.77 686.43,473.38 700.69,473.38 689.15,481.77" fill="#94780e" fill-rule="nonzero"/><polygon points="693.56,470.80 698.22,474.19 696.44,479.66 690.68,479.66 688.90,474.19" fill="#c8c83e" stroke="#94780e" stroke-width="1.1" stroke-linejoin="miter"/>
<text x="700.16" y="479.7" font-size="9.33" fill="#1c1c1c">6:30am</text>
<polygon points="45.54,481.90 49.95,495.47 38.41,487.08 52.67,487.08 41.13,495.47" fill="#94780e" fill-rule="nonzero"/><polygon points="45.54,484.50 50.20,487.89 48.42,493.36 42.66,493.36 40.88,487.89" fill="#c85a00" stroke="#94780e" stroke-width="1.1" stroke-linejoin="miter"/>
<text x="52.14" y="493.6" font-size="9.33" fill="#1c1c1c">7:12pm</text>
<polygon points="121.99,481.90 126.40,495.47 114.85,487.08 129.12,487.08 117.58,495.47" fill="#94780e" fill-rule="nonzero"/><polygon points="121.99,484.50 126.65,487.89 124.87,493.36 119.11,493.36 117.33,487.89" fill="#c85a00" stroke="#94780e" stroke-width="1.1" stroke-linejoin="miter"/>
<text x="128.59" y="493.6" font-size="9.33" fill="#1c1c1c">7:11pm</text>
<polygon points="198.38,481.90 202.79,495.47 191.25,487.08 205.51,487.08 193.97,495.47" fill="#94780e" fill-rule="nonzero"/><polygon points="198.38,484.50 203.04,487.89 201.26,493.36 195.50,493.36 193.72,487.89" fill="#c85a00" stroke="#94780e" stroke-width="1.1" stroke-linejoin="miter"/>
<text x="204.98" y="493.6" font-size="9.33" fill="#1c1c1c">7:09pm</text>
<polygon points="274.83,481.90 279.24,495.47 267.69,487.08 281.96,487.08 270.42,495.47" fill="#94780e" fill-rule="nonzero"/><polygon points="274.83,484.50 279.49,487.89 277.71,493.36 271.95,493.36 270.17,487.89" fill="#c85a00" stroke="#94780e" stroke-width="1.1" stroke-linejoin="miter"/>
<text x="281.43" y="493.6" font-size="9.33" fill="#1c1c1c">7:08pm</text>
<polygon points="351.27,481.90 355.68,495.47 344.14,487.08 358.41,487.08 346.87,495.47" fill="#94780e" fill-rule="nonzero"/><polygon points="351.27,484.50 355.93,487.89 354.15,493.36 348.39,493.36 346.61,487.89" fill="#c85a00" stroke="#94780e" stroke-width="1.1" stroke-linejoin="miter"/>
<text x="357.87" y="493.6" font-size="9.33" fill="#1c1c1c">7:07pm</text>
<polygon points="427.67,481.90 432.08,495.47 420.54,487.08 434.80,487.08 423.26,495.47" fill="#94780e" fill-rule="nonzero"/><polygon points="427.67,484.50 432.33,487.89 430.55,493.36 424.79,493.36 423.01,487.89" fill="#c85a00" stroke="#94780e" stroke-width="1.1" stroke-linejoin="miter"/>
<text x="434.27" y="493.6" font-size="9.33" fill="#1c1c1c">7:05pm</text>
<polygon points="504.12,481.90 508.52,495.47 496.98,487.08 511.25,487.08 499.71,495.47" fill="#94780e" fill-rule="nonzero"/><polygon points="504.12,484.50 508.78,487.89 507.00,493.36 501.23,493.36 499.45,487.89" fill="#c85a00" stroke="#94780e" stroke-width="1.1" stroke-linejoin="miter"/>
<text x="510.71" y="493.6" font-size="9.33" fill="#1c1c1c">7:04pm</text>
<polygon points="580.56,481.90 584.97,495.47 573.43,487.08 587.69,487.08 576.15,495.47" fill="#94780e" fill-rule="nonzero"/><polygon points="580.56,484.50 585.22,487.89 583.44,493.36 577.68,493.36 575.90,487.89" fill="#c85a00" stroke="#94780e" stroke-width="1.1" stroke-linejoin="miter"/>
<text x="587.16" y="493.6" font-size="9.33" fill="#1c1c1c">7:03pm</text>
<polygon points="656.96,481.90 661.36,495.47 649.82,487.08 664.09,487.08 652.55,495.47" fill="#94780e" fill-rule="nonzero"/><polygon points="656.96,484.50 661.62,487.89 659.84,493.36 654.08,493.36 652.30,487.89" fill="#c85a00" stroke="#94780e" stroke-width="1.1" stroke-linejoin="miter"/>
<text x="663.56" y="493.6" font-size="9.33" fill="#1c1c1c">7:01pm</text>
<circle cx="117.12" cy="503.0" r="4.9" fill="#ffffc8" stroke="#909090" stroke-width="1"/>
<text x="124.52" y="507.2" font-size="9.33" fill="#1c1c1c">5:45pm</text>
<circle cx="195.74" cy="503.0" r="4.9" fill="#ffffc8" stroke="#909090" stroke-width="1"/>
<text x="203.14" y="507.2" font-size="9.33" fill="#1c1c1c">6:25pm</text>
<circle cx="274.26" cy="503.0" r="4.9" fill="#ffffc8" stroke="#909090" stroke-width="1"/>
<text x="281.66" y="507.2" font-size="9.33" fill="#1c1c1c">7:03pm</text>
<circle cx="352.73" cy="503.0" r="4.9" fill="#ffffc8" stroke="#909090" stroke-width="1"/>
<text x="360.13" y="507.2" font-size="9.33" fill="#1c1c1c">7:40pm</text>
<circle cx="431.19" cy="503.0" r="4.9" fill="#ffffc8" stroke="#909090" stroke-width="1"/>
<text x="438.59" y="507.2" font-size="9.33" fill="#1c1c1c">8:17pm</text>
<circle cx="509.66" cy="503.0" r="4.9" fill="#ffffc8" stroke="#909090" stroke-width="1"/>
<text x="517.06" y="507.2" font-size="9.33" fill="#1c1c1c">8:54pm</text>
<circle cx="588.23" cy="503.0" r="4.9" fill="#ffffc8" stroke="#909090" stroke-width="1"/>
<text x="595.63" y="507.2" font-size="9.33" fill="#1c1c1c">9:33pm</text>
<circle cx="666.96" cy="503.0" r="4.9" fill="#ffffc8" stroke="#909090" stroke-width="1"/>
<text x="674.36" y="507.2" font-size="9.33" fill="#1c1c1c">10:15pm</text>
<circle cx="72.76" cy="516.6" r="4.9" fill="#c8c8b4" stroke="#858585" stroke-width="1"/>
<text x="79.56" y="520.7" font-size="9.33" fill="#1c1c1c">3:50am</text>
<circle cx="152.29" cy="516.6" r="4.9" fill="#c8c8b4" stroke="#858585" stroke-width="1"/>
<text x="159.09" y="520.7" font-size="9.33" fill="#1c1c1c">4:47am</text>
<circle cx="231.87" cy="516.6" r="4.9" fill="#c8c8b4" stroke="#858585" stroke-width="1"/>
<text x="238.67" y="520.7" font-size="9.33" fill="#1c1c1c">5:45am</text>
<circle cx="311.56" cy="516.6" r="4.9" fill="#c8c8b4" stroke="#858585" stroke-width="1"/>
<text x="318.36" y="520.7" font-size="9.33" fill="#1c1c1c">6:45am</text>
<circle cx="391.30" cy="516.6" r="4.9" fill="#c8c8b4" stroke="#858585" stroke-width="1"/>
<text x="398.10" y="520.7" font-size="9.33" fill="#1c1c1c">7:46am</text>
<circle cx="471.09" cy="516.6" r="4.9" fill="#c8c8b4" stroke="#858585" stroke-width="1"/>
<text x="477.89" y="520.7" font-size="9.33" fill="#1c1c1c">8:48am</text>
<circle cx="550.88" cy="516.6" r="4.9" fill="#c8c8b4" stroke="#858585" stroke-width="1"/>
<text x="557.68" y="520.7" font-size="9.33" fill="#1c1c1c">9:50am</text>
<circle cx="630.78" cy="516.6" r="4.9" fill="#c8c8b4" stroke="#858585" stroke-width="1"/>
<text x="637.58" y="520.7" font-size="9.33" fill="#1c1c1c">10:54am</text>
<text x="245.35" y="533.3" font-size="9.33" fill="#333">Full Moon | 12:02am</text>
</svg>
</body></html>
